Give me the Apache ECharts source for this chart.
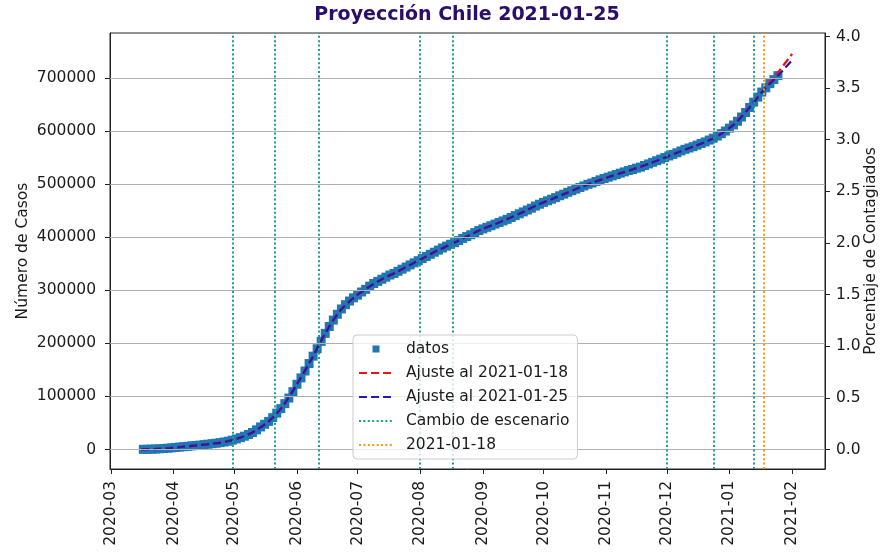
<!DOCTYPE html>
<html><head><meta charset="utf-8">
<script src="https://cdn.jsdelivr.net/npm/echarts@6/dist/echarts.min.js"></script>
<style>html,body{margin:0;padding:0;background:#fff}#c{width:883px;height:554px}</style>
</head><body><div id="c"></div>
<script>
// ---------- data ----------
const titleText = 'Proyección Chile 2021-01-25';
const monthTicks = ['2020-03-01','2020-04-01','2020-05-01','2020-06-01','2020-07-01','2020-08-01',
  '2020-09-01','2020-10-01','2020-11-01','2020-12-01','2021-01-01','2021-02-01'];
const casosTicks = [0,100000,200000,300000,400000,500000,600000,700000];
const pctTicks = [0,0.5,1.0,1.5,2.0,2.5,3.0,3.5,4.0];

// observed cases, every 2 days starting 2020-03-17
const datosStart = '2020-03-17';
const datosStepDays = 2;
const datosCasos = [
  250,400,600,900,1300,1800,2400,3100,3900,4600,5300,6000,6800,7500,8300,9100,10000,10900,11800,12900,
  14100,15600,17500,19800,22300,25000,28200,32000,37000,42500,47500,53000,60000,68500,77000,86500,97000,109000,123000,135000,
  148000,162000,176000,190000,204000,219000,232000,244000,255000,265000,273000,280000,286000,291000,297000,302000,308000,313000,317000,321000,
  325000,329000,332000,336000,340000,344000,348000,352000,356000,360000,364000,368000,372000,376000,380000,383500,387000,390000,394000,398000,
  401500,405000,409000,413000,416000,419000,422000,425000,428000,431000,434000,437500,441000,444500,448000,451500,455000,459000,462500,466000,
  469000,472000,475000,478500,481500,485000,488000,491000,494000,497000,500000,502500,505500,508500,511000,513500,516000,518500,521000,523500,
  526000,528000,530500,532500,535500,538500,541500,544500,547500,550500,553500,556500,559500,563000,566000,568500,571000,574000,577000,580000,
  583500,587000,591000,595500,600500,606000,612000,619000,627000,635500,645000,655000,664500,674000,682000,690000,697500,705000
];

// fitted curves, weekly starting 2020-03-16
const ajusteStart = '2020-03-16';
const ajusteStepDays = 7;
const ajuste0118 = [
  200,900,2700,5300,7900,10900,14800,22300,34500,53000,81500,123000,169000,219000,260000,286000,305000,321000,334000,348000,
  362000,376000,388500,401500,414500,425000,436000,448000,461000,472000,483000,494000,504000,513500,522000,530500,540000,550500,561000,571000,
  581500,595500,616000,645500,679000,711000,746000
];
const ajuste0125 = [
  200,900,2700,5300,7900,10900,14800,22300,34500,53000,81500,123000,169000,219000,260000,286000,305000,321000,334000,348000,
  362000,376000,388500,401500,414500,425000,436000,448000,461000,472000,483000,494000,504000,513500,522000,530500,540000,550500,561000,571000,
  581500,595500,615500,645000,678000,705000,734000
];

const cambioEscenario = ['2020-04-30','2020-05-21','2020-06-12','2020-08-01','2020-08-17','2020-12-01','2020-12-24','2021-01-13'];
const fechaCorte = ['2021-01-18'];

// ---------- helpers ----------
function toDate(s){ const p = s.split('-').map(Number); return new Date(p[0], p[1]-1, p[2]); }
function series2(start, step, values){
  const t0 = toDate(start);
  return values.map((v,i)=>{ const d = new Date(t0.getFullYear(), t0.getMonth(), t0.getDate() + i*step); return [d.getTime(), v]; });
}
function fmtMonth(v){ const d = new Date(v); return d.getFullYear() + '-' + String(d.getMonth()+1).padStart(2,'0'); }

const FONT = 'DejaVu Sans';
const TXT = '#1a1a1a';
const xMin = new Date(2020, 1, 29, 12).getTime();
const xMax = new Date(2021, 1, 17, 7).getTime();
const teal = '#1a9e8e';
const orange = '#f59a1b';
const red = '#e8141c';
const indigo = '#2c17a6';
const monthTs = monthTicks.map(s=>toDate(s).getTime());
const noSym = {color: 'rgba(0,0,0,0)', borderColor: 'rgba(0,0,0,0)', borderWidth: 0};

const chart = echarts.init(document.getElementById('c'), null, {renderer:'canvas'});
chart.setOption({
  animation: false,
  backgroundColor: '#fff',
  title: {
    text: titleText, left: 467, textAlign: 'center', top: 6, padding: 0,
    textStyle: {fontFamily: FONT, fontSize: 19, fontWeight: 'bold', color: '#2b0d6b'}
  },
  grid: {left: 110, right: 58, top: 33, bottom: 85, containLabel: false, outerBoundsMode: 'none',
    show: true, borderColor: '#222', borderWidth: 1, backgroundColor: 'transparent'},
  legend: {
    orient: 'vertical', left: 353, top: 335, z: 20,
    backgroundColor: 'rgba(255,255,255,0.8)', borderColor: '#cccccc', borderWidth: 1, borderRadius: 4,
    padding: [6, 8, 6, 5], itemWidth: 34, itemHeight: 16, itemGap: 8,
    textStyle: {fontFamily: FONT, fontSize: 15.5, color: TXT, padding: [0,0,0,8]},
    data: [
      {name: 'datos', icon: 'path://M0,0M34,16M13.5,4.5h7v7h-7z'},
      {name: 'Ajuste al 2021-01-18', itemStyle: noSym},
      {name: 'Ajuste al 2021-01-25', itemStyle: noSym},
      {name: 'Cambio de escenario', itemStyle: noSym},
      {name: '2021-01-18', itemStyle: noSym}
    ]
  },
  xAxis: {
    type: 'value', min: xMin, max: xMax, scale: true,
    axisLine: {show: true, onZero: false, lineStyle: {color: '#222'}},
    axisTick: {show: true, length: 5, lineStyle: {color: '#222'}, customValues: monthTs},
    axisLabel: {rotate: 90, margin: 12, fontFamily: FONT, fontSize: 15.5, color: TXT,
      customValues: monthTs, formatter: fmtMonth},
    splitLine: {show: false}
  },
  yAxis: [
    {
      type: 'value', min: -36800, max: 785400, position: 'left',
      name: 'Número de Casos', nameLocation: 'middle', nameRotate: 90, nameGap: 79, nameMoveOverlap: false,
      nameTextStyle: {fontFamily: FONT, fontSize: 15.5, color: TXT},
      axisLine: {show: true, onZero: false, lineStyle: {color: '#222'}},
      axisTick: {show: true, length: 5, lineStyle: {color: '#222'}, customValues: casosTicks},
      axisLabel: {margin: 14, fontFamily: FONT, fontSize: 15.5, color: TXT, customValues: casosTicks, formatter: v => String(v)},
      splitLine: {show: false}
    },
    {
      type: 'value', min: -0.1886, max: 4.0338, position: 'right',
      name: 'Porcentaje de Contagiados', nameLocation: 'middle', nameRotate: 90, nameGap: 38, nameMoveOverlap: false,
      nameTextStyle: {fontFamily: FONT, fontSize: 15.5, color: TXT},
      axisLine: {show: true, onZero: false, lineStyle: {color: '#222'}},
      axisTick: {show: true, length: 5, lineStyle: {color: '#222'}, customValues: pctTicks},
      axisLabel: {margin: 11, fontFamily: FONT, fontSize: 15.5, color: TXT, customValues: pctTicks, formatter: v => v.toFixed(1)},
      splitLine: {show: false}
    }
  ],
  series: [
    {
      name: 'grid', type: 'line', data: [], z: 0, silent: true,
      markLine: {silent: true, symbol: ['none','none'], label: {show: false}, animation: false,
        lineStyle: {color: '#b0b0b0', width: 1, type: 'solid'},
        data: casosTicks.map(v => ({yAxis: v}))}
    },
    {
      name: 'datos', type: 'scatter', data: series2(datosStart, datosStepDays, datosCasos),
      symbol: 'rect', symbolSize: 9, itemStyle: {color: '#1f77b4', opacity: 1}, z: 2, silent: true
    },
    {
      name: 'Ajuste al 2021-01-18', type: 'line', data: series2(ajusteStart, ajusteStepDays, ajuste0118),
      smooth: 0.3, showSymbol: false, symbol: 'circle', z: 3, silent: true,
      lineStyle: {color: red, width: 2.3, type: [8, 4]}, itemStyle: {color: red}
    },
    {
      name: 'Ajuste al 2021-01-25', type: 'line', data: series2(ajusteStart, ajusteStepDays, ajuste0125),
      smooth: 0.3, showSymbol: false, symbol: 'circle', z: 3, silent: true,
      lineStyle: {color: indigo, width: 2.3, type: [8, 4]}, itemStyle: {color: indigo}
    },
    {
      name: 'Cambio de escenario', type: 'line', data: [], symbol: 'circle', z: 3, silent: true,
      lineStyle: {color: teal, width: 2, type: [2, 2.4]}, itemStyle: {color: teal},
      markLine: {silent: true, symbol: ['none','none'], label: {show: false}, animation: false,
        lineStyle: {color: teal, width: 2, type: [2, 2.4]},
        data: cambioEscenario.map(s => ({xAxis: toDate(s).getTime()}))}
    },
    {
      name: '2021-01-18', type: 'line', data: [], symbol: 'circle', z: 3, silent: true,
      lineStyle: {color: orange, width: 2, type: [2, 2.4]}, itemStyle: {color: orange},
      markLine: {silent: true, symbol: ['none','none'], label: {show: false}, animation: false,
        lineStyle: {color: orange, width: 2, type: [2, 2.4]},
        data: fechaCorte.map(s => ({xAxis: toDate(s).getTime()}))}
    }
  ]
});
</script></body></html>
